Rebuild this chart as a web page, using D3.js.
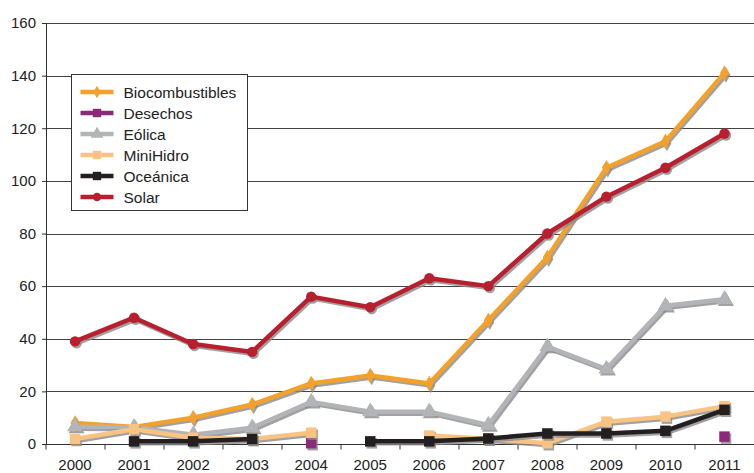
<!DOCTYPE html>
<html>
<head>
<meta charset="utf-8">
<script src="https://cdn.jsdelivr.net/npm/d3@7/dist/d3.min.js"></script>
<style>
  body { margin: 0; background: #fff; }
  svg { font-family: "Liberation Sans", Arial, sans-serif; }
</style>
</head>
<body>
<div id="chart"></div>
<script>
const years = ["2000","2001","2002","2003","2004","2005","2006","2007","2008","2009","2010","2011"];
const yTicks = [0, 20, 40, 60, 80, 100, 120, 140, 160];

const biocombustibles = [8, 6.5, 10, 15, 23, 26, 23, 47, 71, 105, 115, 141];
const desechos = [null, null, null, null, 0.3, null, null, null, null, null, null, 2.8];
const eolica = [6.6, 6.4, 3.5, 6.2, 16, 12.3, 12.3, 7.2, 37, 28.5, 52.5, 55];
const minihidro = [1.9, 5.6, 2.4, 1.9, 4.3, null, 3.2, 2, 0.3, 8.5, 10.4, 14.4];
const oceanica = [null, 1, 1, 1.9, null, 1, 1, 2.1, 4, 4, 5, 13];
const solar = [39, 48, 38, 35, 56, 52, 63, 60, 80, 94, 105, 118];

const series = [
  { name: "Biocombustibles", values: biocombustibles, color: "#f4a12b", marker: "diamond" },
  { name: "Desechos", values: desechos, color: "#8b2a78", marker: "square" },
  { name: "Eólica", values: eolica, color: "#b3b4b7", marker: "triangle" },
  { name: "MiniHidro", values: minihidro, color: "#f9c384", marker: "square" },
  { name: "Oceánica", values: oceanica, color: "#231f20", marker: "square" },
  { name: "Solar", values: solar, color: "#b8202f", marker: "circle" }
];

const W = 754, H = 473;
const margin = { top: 23, right: 0, bottom: 29, left: 45.5 };
const width = W - margin.left - margin.right;
const height = H - margin.top - margin.bottom;

const svg = d3.select("#chart").append("svg")
  .attr("width", W).attr("height", H);
const g = svg.append("g").attr("transform", `translate(${margin.left},${margin.top})`);

const x = d3.scaleBand().domain(years).range([0, width]).padding(0);
const y = d3.scaleLinear().domain([0, 160]).range([height, 0]);

// gridlines
g.selectAll(".grid").data(yTicks.filter(d => d > 0)).enter().append("line")
  .attr("x1", 0).attr("x2", width + 2)
  .attr("y1", d => Math.round(y(d)) + 0.5).attr("y2", d => Math.round(y(d)) + 0.5)
  .attr("stroke", "#444").attr("stroke-width", 1);

// y axis
const yAxis = g.append("g").attr("transform", "translate(0.5,0)")
  .call(d3.axisLeft(y).tickValues(yTicks).tickSize(4).tickPadding(6));
yAxis.select(".domain").attr("stroke", "#333");
yAxis.selectAll(".tick line").attr("stroke", "#333");
yAxis.selectAll("text").attr("font-size", 15).attr("fill", "#222")
  .attr("font-family", "Liberation Sans, Arial, sans-serif");

// x axis
const xAxis = g.append("g").attr("transform", `translate(0,${Math.round(height) + 0.5})`);
xAxis.append("line").attr("x1", 0).attr("x2", width).attr("stroke", "#333");
const bounds = years.map((d, i) => x(d)).concat([width]);
xAxis.selectAll(".xt").data(bounds).enter().append("line")
  .attr("x1", d => Math.round(d) + 0.5).attr("x2", d => Math.round(d) + 0.5)
  .attr("y1", 0).attr("y2", 5).attr("stroke", "#333");
xAxis.selectAll(".xl").data(years).enter().append("text")
  .attr("x", d => x(d) + x.bandwidth() / 2).attr("y", 25)
  .attr("text-anchor", "middle").attr("font-size", 15).attr("fill", "#222")
  .text(d => d);

const cx = (i) => x(years[i]) + x.bandwidth() / 2;

function markerPath(type) {
  if (type === "diamond") return d3.symbol().type(d3.symbolDiamond).size(70)();
  if (type === "square") return d3.symbol().type(d3.symbolSquare).size(110)();
  if (type === "triangle") return d3.symbol().type(d3.symbolTriangle).size(110)();
  return d3.symbol().type(d3.symbolCircle).size(85)();
}

const line = d3.line()
  .defined(d => d.v !== null)
  .x(d => cx(d.i)).y(d => y(d.v));

series.forEach(s => {
  const pts = s.values.map((v, i) => ({ v, i }));
  const sg = g.append("g");
  // shadow
  sg.append("path").attr("d", line(pts))
    .attr("fill", "none").attr("stroke", "#8a8a8a").attr("stroke-opacity", 0.8)
    .attr("stroke-width", 4.5).attr("stroke-linejoin", "round")
    .attr("transform", "translate(1.5,2)");
  sg.selectAll(".ms").data(pts.filter(d => d.v !== null)).enter().append("path")
    .attr("d", markerPath(s.marker))
    .attr("transform", d => `translate(${cx(d.i) + 1.5},${y(d.v) + 2})`)
    .attr("fill", "#8a8a8a").attr("fill-opacity", 0.8);
  sg.append("path").attr("d", line(pts))
    .attr("fill", "none").attr("stroke", s.color)
    .attr("stroke-width", 4.5).attr("stroke-linejoin", "round");
  sg.selectAll(".m").data(pts.filter(d => d.v !== null)).enter().append("path")
    .attr("d", markerPath(s.marker))
    .attr("transform", d => `translate(${cx(d.i)},${y(d.v)})`)
    .attr("fill", s.color);
});

// legend
const lg = svg.append("g").attr("transform", "translate(71.5,74.5)");
lg.append("rect").attr("width", 176).attr("height", 136)
  .attr("fill", "#fff").attr("stroke", "#333").attr("stroke-width", 1);
series.forEach((s, i) => {
  const yy = 17.5 + i * 21;
  lg.append("line").attr("x1", 9).attr("x2", 42).attr("y1", yy).attr("y2", yy)
    .attr("stroke", s.color).attr("stroke-width", 4.5);
  lg.append("path").attr("d", markerPath(s.marker))
    .attr("transform", `translate(25.5,${yy}) scale(0.8)`).attr("fill", s.color);
  lg.append("text").attr("x", 52).attr("y", yy + 5.5)
    .attr("font-size", 15.5).attr("fill", "#222").text(s.name);
});
</script>
</body>
</html>
